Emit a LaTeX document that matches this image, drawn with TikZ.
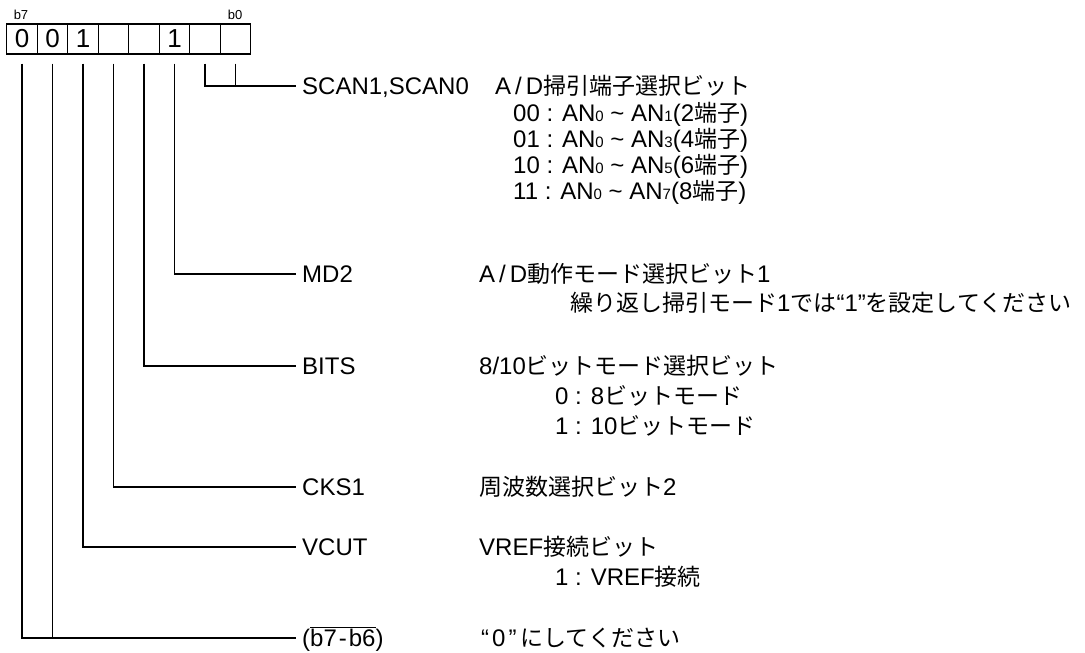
\documentclass[tikz,border=0pt]{standalone}
\usepackage{fontspec}
\setmainfont{Liberation Sans}
\newfontfamily\jpf{Noto Sans CJK JP}
\newcommand{\J}[1]{{\jpf\fontsize{23}{27}\selectfont #1}}
\newcommand{\sbs}[1]{{\fontsize{15}{15}\selectfont #1}}
\newcommand{\AD}{A\kern4pt/\kern4pt D}
\tikzset{
  cell/.style={draw, line width=1.4pt, minimum width=30.5pt, minimum height=30pt, inner sep=0pt, font=\fontsize{26}{26}\selectfont},
  lbl/.style={anchor=west, inner sep=0pt, text height=20pt, text depth=4pt, font=\fontsize{24}{27}\selectfont},
  bitlbl/.style={inner sep=0pt, font=\fontsize{13}{13}\selectfont},
  wire/.style={line width=1.4pt}
}
\begin{document}
\begin{tikzpicture}[x=1pt,y=-1pt]
\useasboundingbox (0,0) rectangle (1085,653);
% register cells
\node[cell] (c7) at (22,39) {0};
\node[cell] (c6) at (52.5,39) {0};
\node[cell] (c5) at (83,39) {1};
\node[cell] (c4) at (113.5,39) {};
\node[cell] (c3) at (144,39) {};
\node[cell] (c2) at (174.5,39) {1};
\node[cell] (c1) at (205,39) {};
\node[cell] (c0) at (235.5,39) {};
\node[bitlbl] (b7) at (21,15) {b7};
\node[bitlbl] (b0) at (235,15) {b0};
% labels
\node[lbl] (scan) at (302,86) {SCAN1,SCAN0};
\node[lbl] (scand) at (495,86) {\AD\J{掃引端子選択ビット}};
\node[lbl] (s00) at (513,113) {00 : AN\sbs{0} \char"7E{} AN\sbs{1}(2\J{端子})};
\node[lbl] (s01) at (513,139) {01 : AN\sbs{0} \char"7E{} AN\sbs{3}(4\J{端子})};
\node[lbl] (s10) at (513,165) {10 : AN\sbs{0} \char"7E{} AN\sbs{5}(6\J{端子})};
\node[lbl] (s11) at (513,191) {11 : AN\sbs{0} \char"7E{} AN\sbs{7}(8\J{端子})};
\node[lbl] (md2) at (302,274) {MD2};
\node[lbl] (md2d) at (479,274) {\AD\J{動作モード選択ビット}1};
\node[lbl] (md2s) at (570,303) {\J{繰り返し掃引モード}1\J{では}“1”\J{を設定してください}};
\node[lbl] (bits) at (302,366) {BITS};
\node[lbl] (bitsd) at (479,366) {8/10\J{ビットモード選択ビット}};
\node[lbl] (bits0) at (555,396) {0 : 8\J{ビットモード}};
\node[lbl] (bits1) at (555,426) {1 : 10\J{ビットモード}};
\node[lbl] (cks) at (302,487) {CKS1};
\node[lbl] (cksd) at (479,487) {\J{周波数選択ビット}2};
\node[lbl] (vcut) at (302,547) {VCUT};
\node[lbl] (vcutd) at (479,547) {VREF\J{接続ビット}};
\node[lbl] (vcut1) at (555,577) {1 : VREF\J{接続}};
\node[lbl] (rsv) at (302,638) {($\overline{\mbox{b7\kern2pt-\kern2pt b6}}$)};
\node[lbl] (rsvd) at (479,638) {\kern2pt“\kern3pt0\kern3pt”\kern4pt\J{にしてください}};
% connectors
\draw[wire] ([yshift=-9pt]c1.south) |- ([xshift=-6pt]scan.west);
\draw[wire] ([yshift=-9pt]c0.south) -- (c0.south |- scan.west);
\draw[wire] ([yshift=-9pt]c2.south) |- ([xshift=-6pt]md2.west);
\draw[wire] ([yshift=-9pt]c3.south) |- ([xshift=-6pt]bits.west);
\draw[wire] ([yshift=-9pt]c4.south) |- ([xshift=-6pt]cks.west);
\draw[wire] ([yshift=-9pt]c5.south) |- ([xshift=-6pt]vcut.west);
\draw[wire] ([yshift=-9pt]c7.south) |- ([xshift=-6pt]rsv.west);
\draw[wire] ([yshift=-9pt]c6.south) -- (c6.south |- rsv.west);
\end{tikzpicture}
\end{document}
